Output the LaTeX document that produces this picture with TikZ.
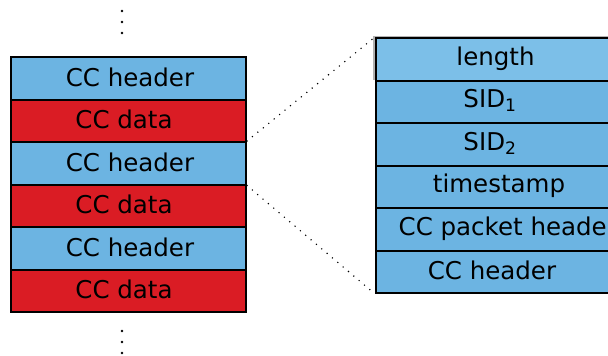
\documentclass[tikz,border=0pt]{standalone}
\usepackage{fontspec}
\setmainfont{DejaVu Sans}
\definecolor{ccblue}{RGB}{108,180,226}
\definecolor{ccblue2}{RGB}{124,191,232}
\definecolor{ccred}{RGB}{218,28,36}
\begin{document}
\begin{tikzpicture}[x=1pt,y=-1pt,
  cell/.style={draw=black, line width=2pt, minimum width=235pt, minimum height=42.5pt,
    inner sep=0pt, anchor=north west},
  hdr/.style={cell, fill=ccblue},
  dat/.style={cell, fill=ccred},
  txt/.style={inner sep=0pt, font=\fontsize{24.5}{28}\selectfont},
  zoomline/.style={line width=1.6pt, line cap=round, dash pattern=on 0pt off 7pt},
  vdot/.style={fill=black}]
\useasboundingbox (0,0) rectangle (608,356);
\clip (0,0) rectangle (608,356);
% left stack
\node[hdr] (l1) at (10,56) {};
\node[dat] (l2) at (10,98.5) {};
\node[hdr] (l3) at (10,141) {};
\node[dat] (l4) at (10,183.5) {};
\node[hdr] (l5) at (10,226) {};
\node[dat] (l6) at (10,268.5) {};
\node[txt] (tl1) at (130,77.25) {CC header};
\node[txt] (tl2) at (124,119.75) {CC data};
\node[txt] (tl3) at (130,162.25) {CC header};
\node[txt] (tl4) at (124,204.75) {CC data};
\node[txt] (tl5) at (130,247.25) {CC header};
\node[txt] (tl6) at (124,289.75) {CC data};
% right stack
\fill[black!30] (373,35.5) rectangle (610,80);
\node[hdr, fill=ccblue2] (r1) at (375,37) {};
\node[hdr] (r2) at (375,79.5) {};
\node[hdr] (r3) at (375,122) {};
\node[hdr] (r4) at (375,164.5) {};
\node[hdr] (r5) at (375,207) {};
\node[hdr] (r6) at (375,249.5) {};
\node[txt] (tr1) at (495.5,58.25) {length};
\node[txt] (tr2) at (490,100.75) {SID\textsubscript{1}};
\node[txt] (tr3) at (490,143.25) {SID\textsubscript{2}};
\node[txt] (tr4) at (499,185.75) {timestamp};
\node[txt, anchor=west] (tr5) at (398.5,228.25) {CC packet header};
\node[txt] (tr6) at (492,270.75) {CC header};
% zoom lines
\draw[zoomline] (l3.north east) -- (r1.north west);
\draw[zoomline] (l3.south east) -- (r6.south west);
% ellipsis dots
\foreach \y in {11,22,33,331,342,353}
  \fill[vdot] (122,\y) circle (1.3pt);
\end{tikzpicture}
\end{document}
